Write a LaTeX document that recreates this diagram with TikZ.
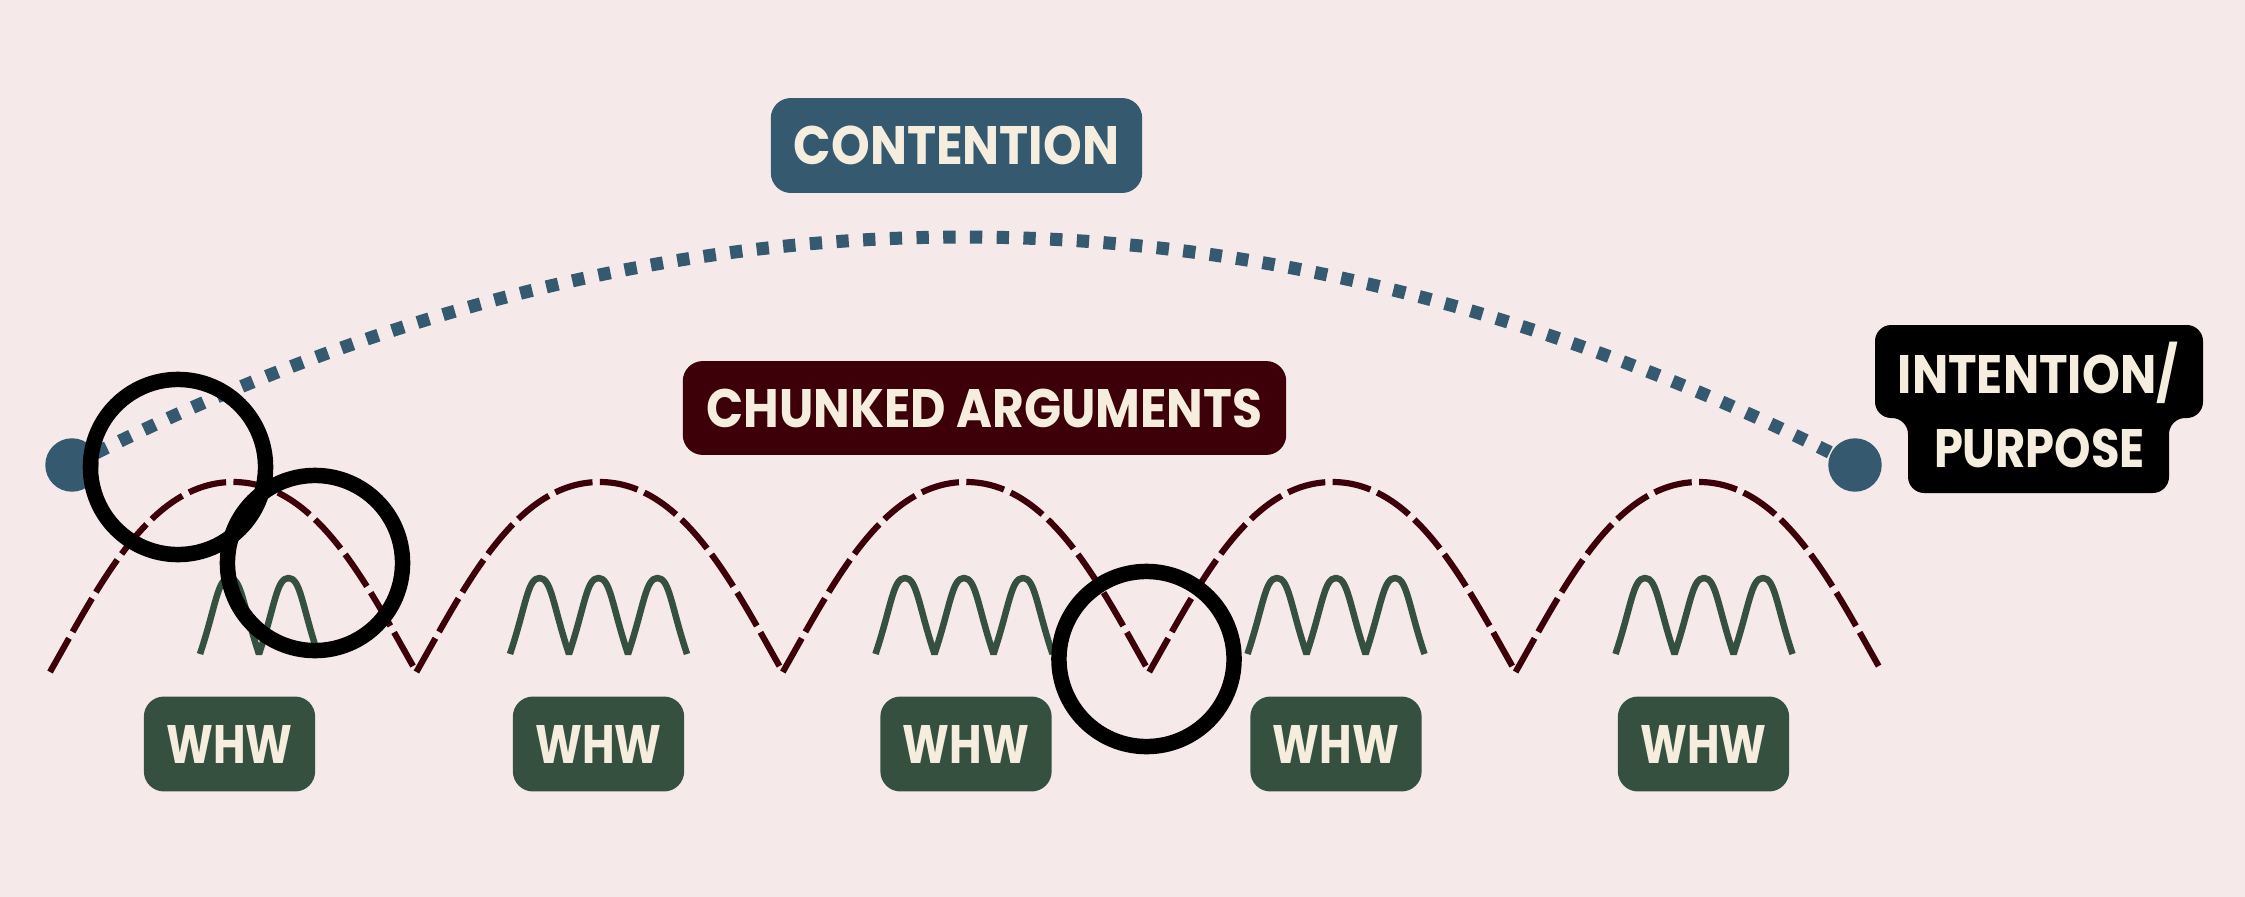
\documentclass[tikz,border=0pt]{standalone}
\usepackage{fontspec}
\usepackage{graphicx}
\setmainfont{Poppins}
\definecolor{bgc}{HTML}{F5E9E9}
\definecolor{blu}{HTML}{355A70}
\definecolor{mar}{HTML}{3D0009}
\definecolor{grn}{HTML}{36503F}
\definecolor{cream}{HTML}{F5EEDF}
\newcommand\fitw[2]{\resizebox{#1}{\height}{#2}}
\tikzset{
  lbl/.style={rounded corners=5.7pt, text=cream, font=\bfseries\fontsize{15.4}{21}\selectfont, inner sep=0pt, anchor=center},
  whwbox/.style={lbl, fill=grn, minimum width=48.7pt, minimum height=27pt},
  arch/.style={draw=mar, line width=1.75pt, dash pattern=on 11pt off 2.1pt},
  spring/.style={draw=grn, line width=1.85pt, line join=bevel},
  ring/.style={circle, draw=black, line width=4.4pt, minimum size=49.8pt, inner sep=0pt},
  dotline/.style={draw=blu, line width=3.7pt, dash pattern=on 3.5pt off 4.1pt},
  bluedot/.style={circle, fill=blu, minimum size=15.2pt, inner sep=0pt},
  txt/.style={text=cream, font=\bfseries\fontsize{15.4}{21}\selectfont, inner sep=0pt}
}
\begin{document}
\begin{tikzpicture}[x=0.01cm,y=-0.01cm]
\path[use as bounding box, fill=bgc] (0,0) rectangle (2245,897);
% blue dotted arc
\coordinate (L) at (72,465);
\coordinate (R) at (1855,465);
\draw[dotline] (L) .. controls (666,161) and (1261,161) .. (R);
\node[bluedot] (Ldot) at (L) {};
\node[bluedot] (Rdot) at (R) {};
% maroon dashed arches
\foreach \i in {0,...,4}
  \draw[arch] ({50+366.4*\i},672) .. controls +(50,-88) and +(-83,0) .. ++(183.2,-190)
     .. controls +(83,0) and +(-50,-88) .. ++(183.2,190);
% green springs
\foreach \c/\n in {229.5/2, 598.5/3, 964/3, 1336/3, 1704/3}
  \draw[spring] ({\c-88.5+59*(3-\n)},654)
    \foreach \k in {1,...,\n} { .. controls +(16,-48) and +(-12,0) .. ++(29.5,-76)
                                .. controls +(12,0) and +(-16,-48) .. ++(29.5,76) };
% labels
\node[lbl, fill=blu, minimum width=105.6pt, minimum height=27pt] (contention) at (956.5,145.5) {\fitw{92.5pt}{CONTENTION}};
\node[lbl, fill=mar, minimum width=171.6pt, minimum height=26.7pt] (chunked) at (984.5,408) {\fitw{158pt}{CHUNKED ARGUMENTS}};
\foreach \c [count=\j] in {229.5, 598.5, 966, 1336, 1703.5}
  \node[whwbox] (whw\j) at (\c,744) {\fitw{35.9pt}{WHW}};
% intention / purpose box
\fill[black, rounded corners=4.6pt] (1875,325) -- (2203,325) -- (2203,418) -- (2169,418) -- (2169,493)
   -- (1908,493) -- (1908,418) -- (1875,418) -- cycle;
\node[txt, anchor=base] (intention) at (2038,393) {\fitw{79.7pt}{INTENTION/}};
\node[txt, anchor=base] (purpose) at (2039.5,467) {\fitw{60pt}{PURPOSE}};
% black rings
\node[ring] (ring1) at (178,467) {};
\node[ring] (ring2) at (315,563) {};
\node[ring] (ring3) at (1146.5,659) {};
\end{tikzpicture}
\end{document}
